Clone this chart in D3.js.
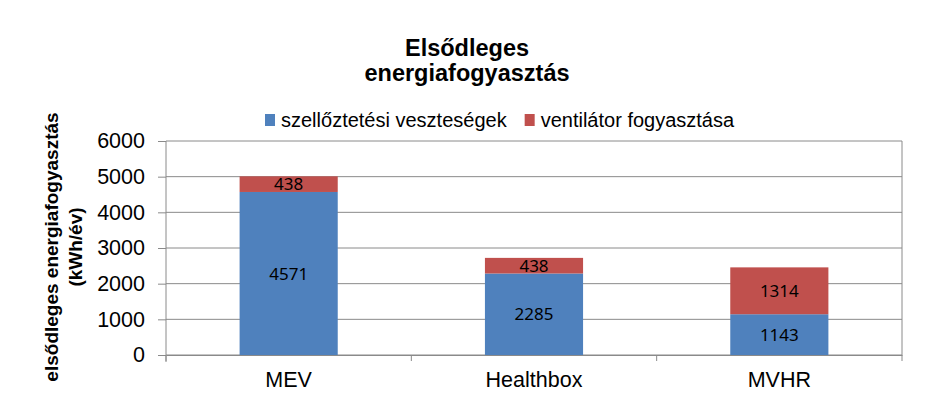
<!DOCTYPE html>
<html>
<head>
<meta charset="utf-8">
<script src="https://cdn.jsdelivr.net/npm/d3@7"></script>
<style>
  body { margin: 0; background: #fff; }
  svg { display: block; }
</style>
</head>
<body>
<div id="chart"></div>
<script>
// data
var categories = ["MEV", "Healthbox", "MVHR"];
var szellozesi = [4571, 2285, 1143];
var ventilator = [438, 438, 1314];
var seriesNames = ["szellőztetési veszteségek", "ventilátor fogyasztása"];
var seriesColors = ["#4F81BD", "#C0504D"];
var yTicks = [0, 1000, 2000, 3000, 4000, 5000, 6000];

var W = 931, H = 411;
var margin = {top: 141, right: 29, bottom: 56, left: 166};
var width = W - margin.left - margin.right,
    height = H - margin.top - margin.bottom;

var svg = d3.select("#chart").append("svg")
  .attr("width", W)
  .attr("height", H);

// title
svg.append("text")
  .attr("x", 467).attr("y", 56)
  .attr("text-anchor", "middle")
  .style("font-family", "Liberation Sans, Arial, sans-serif")
  .style("font-weight", "bold")
  .style("font-size", "23.5px")
  .text("Elsődleges");
svg.append("text")
  .attr("x", 467).attr("y", 81)
  .attr("text-anchor", "middle")
  .style("font-family", "Liberation Sans, Arial, sans-serif")
  .style("font-weight", "bold")
  .style("font-size", "23.5px")
  .text("energiafogyasztás");

// legend
var legend = svg.append("g").attr("transform", "translate(265,0)");
var lx = 0;
seriesNames.forEach(function(name, i) {
  legend.append("rect")
    .attr("x", lx).attr("y", 114)
    .attr("width", 10).attr("height", 12)
    .attr("fill", seriesColors[i]);
  var t = legend.append("text")
    .attr("x", lx + 16).attr("y", 127)
    .style("font-family", "Liberation Sans, Arial, sans-serif")
    .style("font-size", "20px")
    .text(name);
  lx += 16 + t.node().getComputedTextLength() + 18;
});

var g = svg.append("g")
  .attr("transform", "translate(" + margin.left + "," + margin.top + ")");

var x = d3.scaleBand()
  .domain(categories)
  .range([0, width])
  .paddingInner(0.6)
  .paddingOuter(0.3);

var y = d3.scaleLinear()
  .domain([0, 6000])
  .range([height, 0]);

// gridlines
g.append("g")
  .selectAll("line")
  .data(yTicks)
  .join("line")
  .attr("x1", 0).attr("x2", width)
  .attr("y1", d => y(d)).attr("y2", d => y(d))
  .attr("stroke", "#8a8a8a")
  .attr("stroke-width", 1);

// right border
g.append("line")
  .attr("x1", width).attr("x2", width)
  .attr("y1", 0).attr("y2", height)
  .attr("stroke", "#8a8a8a");

// stacked bars
var table = categories.map(function(c, i) {
  return {cat: c, szellozesi: szellozesi[i], ventilator: ventilator[i]};
});
var stack = d3.stack().keys(["szellozesi", "ventilator"])(table);

var layers = g.selectAll(".layer")
  .data(stack)
  .join("g")
  .attr("class", "layer")
  .attr("fill", (d, i) => seriesColors[i]);

layers.selectAll("rect")
  .data(d => d)
  .join("rect")
  .attr("x", d => x(d.data.cat))
  .attr("y", d => y(d[1]))
  .attr("width", x.bandwidth())
  .attr("height", d => y(d[0]) - y(d[1]));

layers.selectAll("text")
  .data(d => d)
  .join("text")
  .attr("x", d => x(d.data.cat) + x.bandwidth() / 2)
  .attr("y", d => (y(d[0]) + y(d[1])) / 2)
  .attr("dy", "0.36em")
  .attr("text-anchor", "middle")
  .attr("fill", "#000")
  .style("font-family", "Noto Sans, sans-serif")
  .style("font-size", "17px")
  .text(d => d[1] - d[0]);

// y axis
var yAxis = g.append("g")
  .call(d3.axisLeft(y).tickValues(yTicks).tickFormat(d3.format("d"))
    .tickSize(8).tickPadding(13).tickSizeOuter(0));
yAxis.select(".domain").remove();
yAxis.selectAll(".tick line").attr("stroke", "#8a8a8a");
yAxis.selectAll(".tick text")
  .style("font-family", "Liberation Sans, Arial, sans-serif")
  .style("font-size", "21.5px")
  .attr("fill", "#000");
g.append("line")
  .attr("x1", 0).attr("x2", 0)
  .attr("y1", 0).attr("y2", height + 7)
  .attr("stroke", "#8a8a8a");

// x axis
var xAxis = g.append("g")
  .attr("transform", "translate(0," + height + ")")
  .call(d3.axisBottom(x).tickSize(0).tickPadding(17));
xAxis.select(".domain").attr("stroke", "#8a8a8a");
xAxis.selectAll(".tick text")
  .style("font-family", "Liberation Sans, Arial, sans-serif")
  .style("font-size", "21.5px")
  .attr("fill", "#000");
// category boundary tick marks
var step = x.step();
xAxis.selectAll(".bound")
  .data(d3.range(categories.length + 1))
  .join("line")
  .attr("class", "bound")
  .attr("x1", i => i * step).attr("x2", i => i * step)
  .attr("y1", 0).attr("y2", 6)
  .attr("stroke", "#8a8a8a");

// y axis title
var yt = svg.append("text")
  .attr("transform", "translate(58,247) rotate(-90)")
  .attr("text-anchor", "middle")
  .style("font-family", "Liberation Sans, Arial, sans-serif")
  .style("font-weight", "bold")
  .style("font-size", "19px");
yt.append("tspan").attr("x", 0).attr("y", 0).text("elsődleges energiafogyasztás");
yt.append("tspan").attr("x", 0).attr("y", 24).text("(kWh/év)");
</script>
</body>
</html>
